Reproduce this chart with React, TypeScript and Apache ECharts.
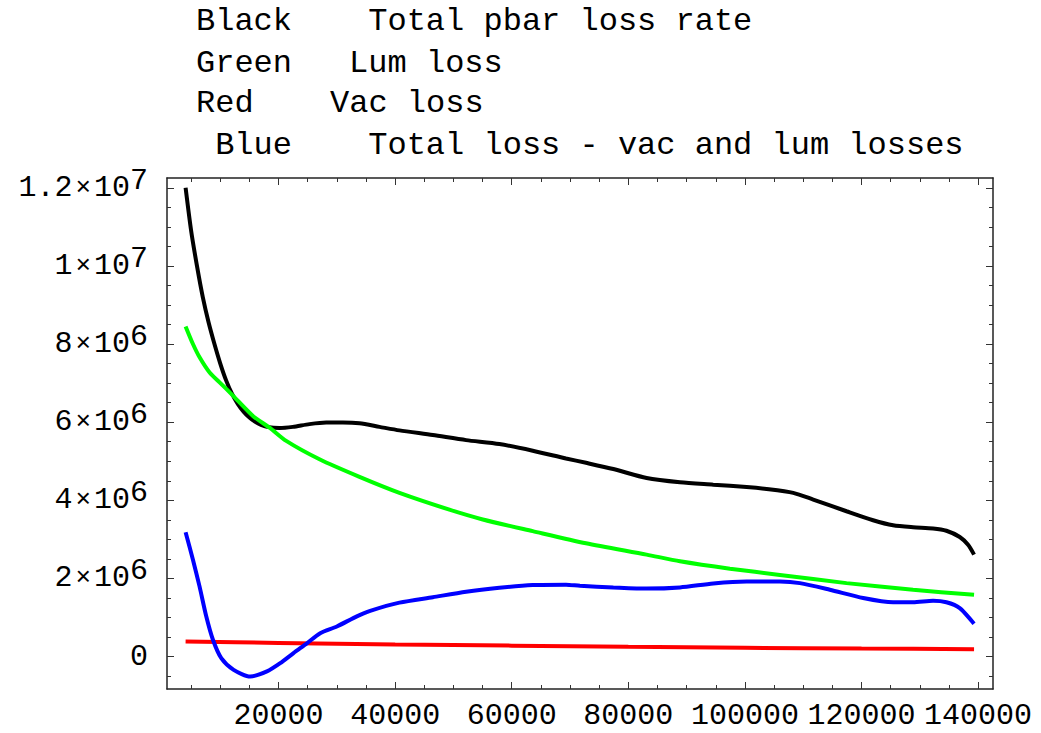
import React, { useEffect, useRef } from "react";
import * as echarts from "echarts";

// Axis extents and labelled tick positions
const xRange: [number, number] = [860, 142560];
const yRange: [number, number] = [-830000, 12250000];
const xTickValues = [20000, 40000, 60000, 80000, 100000, 120000, 140000];
const yTickValues = [0, 2e6, 4e6, 6e6, 8e6, 1e7, 1.2e7];
const xMinorStep = 5000;
const yMinorStep = 500000;

// Legend text, one entry per curve
const legendColors = ["Black", "Green", "Red", "Blue"];
const legendNames = [
  "Total pbar loss rate",
  "Lum loss",
  "Vac loss",
  "Total loss - vac and lum losses",
];

// Total pbar loss rate (black)
const totalLoss: [number, number][] = [
  [4050, 12.0e6], [5000, 10.9e6], [6000, 10.0e6], [7000, 9.2e6], [8000, 8.55e6],
  [9000, 8.0e6], [10000, 7.5e6], [11000, 7.07e6], [12000, 6.73e6], [13000, 6.47e6],
  [14000, 6.27e6], [15000, 6.12e6], [16000, 6.01e6], [17000, 5.93e6], [18000, 5.88e6],
  [20160, 5.85e6], [22450, 5.88e6],
  [25300, 5.95e6], [28170, 5.99e6], [31030, 5.99e6], [33880, 5.97e6], [37310, 5.88e6],
  [40740, 5.79e6], [46460, 5.67e6], [52170, 5.54e6], [57880, 5.44e6], [63600, 5.27e6],
  [69310, 5.07e6], [72740, 4.96e6], [77430, 4.8e6], [83140, 4.57e6], [88860, 4.46e6],
  [94570, 4.4e6], [100290, 4.34e6], [103720, 4.29e6], [108290, 4.19e6], [111720, 4.02e6],
  [117430, 3.72e6], [121990, 3.49e6], [125420, 3.36e6], [128850, 3.31e6], [132280, 3.28e6],
  [134570, 3.22e6], [136860, 3.06e6], [138280, 2.86e6], [139310, 2.61e6],
];

// Luminosity loss (green)
const lumLoss: [number, number][] = [
  [4050, 8.45e6], [5310, 8.0e6], [6450, 7.66e6], [8170, 7.27e6], [9880, 7.02e6],
  [12170, 6.68e6], [15600, 6.16e6], [18450, 5.86e6], [21310, 5.52e6], [27020, 5.05e6],
  [33880, 4.6e6], [40740, 4.19e6], [49310, 3.76e6], [55030, 3.51e6], [63600, 3.21e6],
  [72740, 2.9e6], [83140, 2.61e6], [88860, 2.44e6], [97430, 2.25e6], [106000, 2.09e6],
  [117430, 1.88e6], [128850, 1.71e6], [139310, 1.58e6],
];

// Vacuum loss (red)
const vacLoss: [number, number][] = [
  [4050, 0.385e6], [20000, 0.35e6], [40000, 0.31e6], [60000, 0.28e6], [80000, 0.25e6],
  [100000, 0.225e6], [120000, 0.205e6], [139310, 0.19e6],
];

// Total loss minus vacuum and luminosity losses (blue)
const residualLoss: [number, number][] = [
  [4050, 3.18e6], [5310, 2.48e6], [6450, 1.79e6], [7590, 1.03e6], [8740, 0.43e6],
  [10170, -0.04e6], [12290, -0.34e6], [15140, -0.51e6], [18000, -0.38e6], [20280, -0.17e6],
  [22560, 0.09e6], [24860, 0.34e6], [27140, 0.6e6], [30000, 0.77e6], [33430, 1.03e6],
  [35710, 1.17e6], [40740, 1.38e6], [46460, 1.52e6], [52170, 1.66e6], [57880, 1.76e6],
  [63600, 1.83e6], [69310, 1.84e6], [71710, 1.81e6], [77430, 1.77e6], [83140, 1.74e6],
  [88860, 1.77e6], [94570, 1.87e6], [100290, 1.92e6], [106000, 1.92e6], [109430, 1.88e6],
  [114570, 1.71e6], [120280, 1.5e6], [125420, 1.39e6], [128850, 1.39e6], [132280, 1.43e6],
  [134570, 1.39e6], [136860, 1.24e6], [139310, 0.84e6],
];

const MONO = "'Liberation Mono', 'DejaVu Sans Mono', monospace";

function minorValues(range: [number, number], step: number, majors: number[]) {
  const out: number[] = [];
  const start = Math.ceil(range[0] / step) * step;
  for (let v = start; v <= range[1]; v += step) {
    if (!majors.includes(v)) out.push(v);
  }
  return out;
}

function sciLabel(v: number) {
  if (v === 0) return "{m|0}";
  const exp = Math.floor(Math.log10(Math.abs(v)) + 1e-9);
  const mant = Math.round((v / Math.pow(10, exp)) * 100) / 100;
  return `{m|${mant}}{t|×}{m|10}{e|${exp}}`;
}

export default function App() {
  const ref = useRef<HTMLDivElement>(null);

  useEffect(() => {
    if (!ref.current) return;
    const chart = echarts.init(ref.current, undefined, { renderer: "svg" });

    const frame = { show: true, onZero: false, lineStyle: { color: "#222", width: 1.5 } };
    const noLine = { show: false, onZero: false };
    const xMinor = minorValues(xRange, xMinorStep, xTickValues);
    const yMinor = minorValues(yRange, yMinorStep, yTickValues);

    const mkX = (position: string, ticks: number[], len: number, line: boolean, labels: boolean) => ({
      type: "value",
      position,
      min: xRange[0],
      max: xRange[1],
      axisLine: line ? frame : noLine,
      splitLine: { show: false },
      axisTick: { show: true, inside: true, length: len, customValues: ticks, lineStyle: { color: "#333", width: 1 } },
      axisLabel: labels
        ? {
            show: true,
            customValues: ticks,
            margin: 12,
            color: "#000",
            fontFamily: MONO,
            fontSize: 30,
            formatter: (v: number) => String(v),
          }
        : { show: false },
    });

    const mkY = (position: string, ticks: number[], len: number, line: boolean, labels: boolean) => ({
      type: "value",
      position,
      min: yRange[0],
      max: yRange[1],
      axisLine: line ? frame : noLine,
      splitLine: { show: false },
      axisTick: { show: true, inside: true, length: len, customValues: ticks, lineStyle: { color: "#333", width: 1 } },
      axisLabel: labels
        ? {
            show: true,
            customValues: ticks,
            margin: 19,
            formatter: (v: number) => sciLabel(v),
            rich: {
              m: { fontFamily: MONO, fontSize: 30, color: "#000", lineHeight: 30 },
              t: { fontFamily: MONO, fontSize: 26, color: "#000", padding: [0, 3, 0, 3] },
              e: { fontFamily: MONO, fontSize: 30, color: "#000", lineHeight: 30, padding: [0, 0, 14, 0] },
            },
          }
        : { show: false },
    });

    const nameCols = [0, 0, 0, 1];
    const descCols = [9, 8, 7, 9];
    const charW = 19.14;
    const legendLeft = 196;
    const lineCenters = [21.3, 63, 103.7, 145.4];
    const legendText: any[] = [];
    legendColors.forEach((c, i) => {
      legendText.push({
        type: "text",
        x: legendLeft + nameCols[i] * charW,
        y: lineCenters[i],
        style: { text: c, fontFamily: MONO, fontSize: 32, fill: "#000", verticalAlign: "middle", align: "left" },
      });
      legendText.push({
        type: "text",
        x: legendLeft + descCols[i] * charW,
        y: lineCenters[i],
        style: { text: legendNames[i], fontFamily: MONO, fontSize: 32, fill: "#000", verticalAlign: "middle", align: "left" },
      });
    });

    const line = (name: string, data: [number, number][], color: string) => ({
      name,
      type: "line",
      data,
      xAxisIndex: 0,
      yAxisIndex: 0,
      showSymbol: false,
      smooth: 0.25,
      lineStyle: { color, width: 4 },
      itemStyle: { color },
      z: 3,
    });

    chart.setOption({
      animation: false,
      backgroundColor: "#fff",
      grid: { left: 167, right: 48, top: 178, bottom: 44, containLabel: false },
      xAxis: [
        mkX("bottom", xTickValues, 7, true, true),
        mkX("bottom", xMinor, 4, false, false),
        mkX("top", xTickValues, 7, true, false),
        mkX("top", xMinor, 4, false, false),
      ],
      yAxis: [
        mkY("left", yTickValues, 7, true, true),
        mkY("left", yMinor, 4, false, false),
        mkY("right", yTickValues, 7, true, false),
        mkY("right", yMinor, 4, false, false),
      ],
      graphic: legendText,
      series: [
        line(legendNames[0], totalLoss, "#000000"),
        line(legendNames[2], vacLoss, "#ff0000"),
        line(legendNames[1], lumLoss, "#00ff00"),
        line(legendNames[3], residualLoss, "#0000ff"),
      ],
    });

    return () => chart.dispose();
  }, []);

  return (
    <div
      ref={ref}
      style={{ position: "fixed", left: 0, top: 0, width: 1041, height: 733, background: "#fff" }}
    />
  );
}
